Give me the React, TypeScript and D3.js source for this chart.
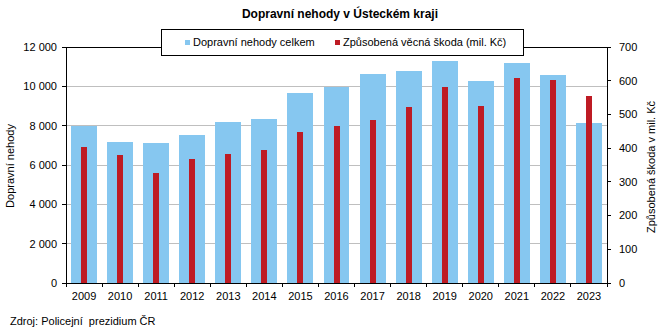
import React from "react";
import * as d3 from "d3";

const years = ["2009","2010","2011","2012","2013","2014","2015","2016","2017","2018","2019","2020","2021","2022","2023"];
const accidents = [7980, 7170, 7120, 7530, 8190, 8340, 9660, 9970, 10630, 10780, 11290, 10270, 11190, 10580, 8140];
const damage = [403, 380, 326, 368, 383, 394, 448, 466, 483, 522, 581, 525, 608, 602, 555];
const leftTicks = [0, 2000, 4000, 6000, 8000, 10000, 12000];
const rightTicks = [0, 100, 200, 300, 400, 500, 600, 700];

const W = 661, H = 332;
const m = { left: 66, right: 607, top: 47, bottom: 283 };
const BLUE = "#86C7F0";
const RED = "#BE1B24";
const FONT = "'Liberation Sans', Arial, sans-serif";

const fmt = (v: number) => d3.format(",")(v).replace(/,/g, " ");

export default function App() {
  const x = d3.scaleBand().domain(years).range([m.left, m.right]).paddingInner(0).paddingOuter(0);
  const yL = d3.scaleLinear().domain([0, 12000]).range([m.bottom, m.top]);
  const yR = d3.scaleLinear().domain([0, 700]).range([m.bottom, m.top]);
  const bw = x.bandwidth();
  const blueW = bw * 0.72;
  const redW = 6;
  return (
    <svg width={W} height={H} style={{ position: "absolute", left: 0, top: 0, fontFamily: FONT }}>
      <rect width={W} height={H} fill="white" />
      {leftTicks.filter(t => t > 0 && t < 12000).map(t => (
        <line key={t} x1={m.left} x2={m.right} y1={yL(t)} y2={yL(t)} stroke="#BFBFBF" strokeWidth={1} shapeRendering="crispEdges" />
      ))}
      {years.map((yr, i) => (
        <rect key={"b" + yr} x={x(yr)! + (bw - blueW) / 2} width={blueW} y={yL(accidents[i])} height={m.bottom - yL(accidents[i])} fill={BLUE} shapeRendering="crispEdges" />
      ))}
      {years.map((yr, i) => (
        <rect key={"r" + yr} x={x(yr)! + (bw - redW) / 2} width={redW} y={yR(damage[i])} height={m.bottom - yR(damage[i])} fill={RED} shapeRendering="crispEdges" />
      ))}
      <line x1={m.left} x2={m.right} y1={m.top} y2={m.top} stroke="black" shapeRendering="crispEdges" />
      <line x1={m.left} x2={m.right} y1={m.bottom} y2={m.bottom} stroke="black" shapeRendering="crispEdges" />
      <line x1={m.left} x2={m.left} y1={m.top} y2={m.bottom} stroke="black" shapeRendering="crispEdges" />
      <line x1={m.right} x2={m.right} y1={m.top} y2={m.bottom} stroke="black" shapeRendering="crispEdges" />
      {leftTicks.map(t => (
        <g key={"l" + t}>
          <line x1={m.left - 4} x2={m.left} y1={yL(t)} y2={yL(t)} stroke="black" shapeRendering="crispEdges" />
          <text x={m.left - 9} y={yL(t)} dy="0.35em" textAnchor="end" fontSize={11} fill="#000">{fmt(t)}</text>
        </g>
      ))}
      {rightTicks.map(t => (
        <g key={"r" + t}>
          <line x1={m.right} x2={m.right + 4} y1={yR(t)} y2={yR(t)} stroke="black" shapeRendering="crispEdges" />
          <text x={m.right + 12} y={yR(t)} dy="0.35em" textAnchor="start" fontSize={11} fill="#000">{t}</text>
        </g>
      ))}
      {years.map(yr => (
        <line key={"xt" + yr} x1={x(yr)!} x2={x(yr)!} y1={m.bottom} y2={m.bottom + 4} stroke="black" shapeRendering="crispEdges" />
      ))}
      <line x1={m.right} x2={m.right} y1={m.bottom} y2={m.bottom + 4} stroke="black" shapeRendering="crispEdges" />
      {years.map(yr => (
        <text key={"xl" + yr} x={x(yr)! + bw / 2} y={296.5} dy="0.35em" textAnchor="middle" fontSize={11} fill="#000">{yr}</text>
      ))}
      <text transform={`translate(14,166) rotate(-90)`} textAnchor="middle" fontSize={11} fill="#000">Dopravní nehody</text>
      <text transform={`translate(655,167) rotate(-90)`} textAnchor="middle" fontSize={11} fill="#000">Způsobená škoda v mil. Kč</text>
      <text x={340} y={18} textAnchor="middle" fontSize={12} fontWeight="bold" fill="#000">Dopravní nehody v Ústeckém kraji</text>
      <rect x={161} y={29.5} width={362} height={25.5} fill="white" stroke="black" shapeRendering="crispEdges" />
      <rect x={185} y={40} width={5} height={5} fill={BLUE} />
      <text x={193} y={42.5} dy="0.35em" fontSize={11} fill="#000">Dopravní nehody celkem</text>
      <rect x={335} y={40} width={5} height={5} fill={RED} />
      <text x={343} y={42.5} dy="0.35em" fontSize={11} fill="#000">Způsobená věcná škoda (mil. Kč)</text>
      <text x={10} y={321} dy="0.35em" fontSize={11} fill="#000" style={{ whiteSpace: "pre" }}>{"Zdroj: Policejní  prezidium ČR"}</text>
    </svg>
  );
}
